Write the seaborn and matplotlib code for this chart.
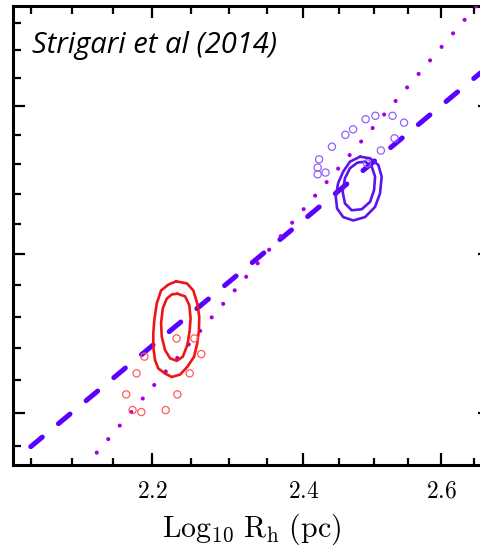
"""Strigari et al (2014): Sculptor populations, mass vs half-light radius."""

import numpy as np
import matplotlib

matplotlib.use("Agg")
import matplotlib.pyplot as plt
import seaborn as sns
from matplotlib.ticker import MultipleLocator, FixedLocator, NullFormatter

# reference slope lines (log10 R_h, log10 M)
DASH_X = [2.05, 2.66]
DASH_Y = [6.398, 7.618]
DOT_X = [2.1303, 2.6536]
DOT_Y = [6.380, 7.861]

# metal-rich population: open circles and contours
RED_PTS_X = [2.231, 2.254, 2.263, 2.190, 2.180, 2.248, 2.167, 2.232, 2.175, 2.186, 2.217]
RED_PTS_Y = [6.731, 6.731, 6.682, 6.674, 6.622, 6.622, 6.557, 6.557, 6.509, 6.503, 6.509]
RED_OUTER_X = [2.2304, 2.2442, 2.2527, 2.2578, 2.2604, 2.2600, 2.2578, 2.2536, 2.2449, 2.2355,
               2.2249, 2.2162, 2.2076, 2.2034, 2.2012, 2.2012, 2.2025, 2.2056, 2.2111, 2.2205]
RED_OUTER_Y = [6.9126, 6.9063, 6.8833, 6.8415, 6.7994, 6.7575, 6.7157, 6.6736, 6.6421, 6.6182,
               6.6107, 6.6214, 6.6371, 6.6632, 6.7050, 6.7472, 6.7890, 6.8415, 6.8833, 6.9022]
RED_INNER_X = [2.2321, 2.2420, 2.2475, 2.2491, 2.2478, 2.2449, 2.2390, 2.2313, 2.2227, 2.2162,
               2.2120, 2.2111, 2.2133, 2.2184, 2.2249]
RED_INNER_Y = [6.8729, 6.8644, 6.8361, 6.7943, 6.7522, 6.7104, 6.6736, 6.6610, 6.6685, 6.6946,
               6.7365, 6.7786, 6.8258, 6.8572, 6.8707]

# metal-poor population
BLUE_PTS_X = [2.440, 2.422, 2.420, 2.420, 2.431, 2.459, 2.470, 2.488, 2.502, 2.527, 2.544,
              2.530, 2.510, 2.490]
BLUE_PTS_Y = [7.360, 7.317, 7.289, 7.266, 7.272, 7.401, 7.420, 7.455, 7.467, 7.467, 7.443,
              7.389, 7.347, 7.303]
BLUE_OUTER_X = [2.4800, 2.4944, 2.5063, 2.5112, 2.5088, 2.5016, 2.4872, 2.4703, 2.4559, 2.4473,
                2.4454, 2.4487, 2.4559, 2.4655]
BLUE_OUTER_Y = [7.3259, 7.3205, 7.2978, 7.2582, 7.2020, 7.1566, 7.1228, 7.1116, 7.1228, 7.1512,
                7.1905, 7.2358, 7.2751, 7.3090]
BLUE_INNER_X = [2.4872, 2.4968, 2.5016, 2.5002, 2.4944, 2.4824, 2.4680, 2.4584, 2.4551, 2.4584,
                2.4655, 2.4761]
BLUE_INNER_Y = [7.3090, 7.2920, 7.2582, 7.2132, 7.1735, 7.1488, 7.1454, 7.1681, 7.2074, 7.2528,
                7.2866, 7.3056]

X_MAJOR = [2.2, 2.4, 2.6]
X_LABELS = [r"$2.2$", r"$2.4$", r"$2.6$"]
Y_MAJOR = [6.5, 7.0, 7.5]

RED = "#f01414"
RED_LIGHT = "#ff5a5a"
BLUE = "#5a14f0"
BLUE_LIGHT = "#9060ff"
DASH_COLOR = "#5a00ff"
DOT_COLOR = "#a400e4"

# the scanned figure is slightly warped; mild quadratic scales reproduce it
KX, X0 = 0.2158, 2.35
KY, Y0 = 0.06977, 7.1


def fwd_x(x):
    d = np.asarray(x, dtype=float) - X0
    return d - KX * d * d


def inv_x(u):
    u = np.asarray(u, dtype=float)
    return X0 + (1 - np.sqrt(np.clip(1 - 4 * KX * u, 1e-9, None))) / (2 * KX)


def fwd_y(y):
    e = np.asarray(y, dtype=float) - Y0
    return e - KY * e * e


def inv_y(u):
    u = np.asarray(u, dtype=float)
    return Y0 + (1 - np.sqrt(np.clip(1 - 4 * KY * u, 1e-9, None))) / (2 * KY)


def closed(xs, ys):
    return list(xs) + [xs[0]], list(ys) + [ys[0]]


def main():
    sns.set_style("white")
    plt.rcParams["mathtext.fontset"] = "cm"
    plt.rcParams["text.color"] = "black"
    plt.rcParams["axes.labelcolor"] = "black"
    plt.rcParams["xtick.color"] = "black"
    plt.rcParams["ytick.color"] = "black"

    fig = plt.figure(figsize=(4.81, 5.49), dpi=100)
    ax = fig.add_axes([13 / 481, (549 - 465) / 549, 477 / 481, 459 / 549])
    ax.set_xscale("function", functions=(fwd_x, inv_x))
    ax.set_yscale("function", functions=(fwd_y, inv_y))

    ax.plot(DASH_X, DASH_Y, color=DASH_COLOR, lw=3.6, linestyle=(0, (3, 4.2)),
            dash_capstyle="round", zorder=3)
    ax.plot(DOT_X, DOT_Y, color=DOT_COLOR, lw=3.0, linestyle=(0, (0.01, 4.25)),
            dash_capstyle="round", zorder=3)

    for xs, ys, col in [(RED_OUTER_X, RED_OUTER_Y, RED), (RED_INNER_X, RED_INNER_Y, RED),
                        (BLUE_OUTER_X, BLUE_OUTER_Y, BLUE), (BLUE_INNER_X, BLUE_INNER_Y, BLUE)]:
        cx, cy = closed(xs, ys)
        ax.plot(cx, cy, color=col, lw=1.9, solid_joinstyle="round", zorder=4)

    sns.scatterplot(x=RED_PTS_X, y=RED_PTS_Y, ax=ax, s=27, facecolor="none",
                    edgecolor=RED_LIGHT, linewidth=0.9, zorder=5)
    sns.scatterplot(x=BLUE_PTS_X, y=BLUE_PTS_Y, ax=ax, s=27, facecolor="none",
                    edgecolor=BLUE_LIGHT, linewidth=0.9, zorder=5)

    ax.set_xlim(2.0288, 2.675)
    ax.set_ylim(6.343, 7.861)

    ax.xaxis.set_major_locator(FixedLocator(X_MAJOR))
    ax.xaxis.set_minor_locator(MultipleLocator(0.05))
    ax.set_xticklabels(X_LABELS)
    ax.yaxis.set_major_locator(FixedLocator(Y_MAJOR))
    ax.yaxis.set_minor_locator(MultipleLocator(0.1))
    ax.yaxis.set_major_formatter(NullFormatter())
    ax.yaxis.set_minor_formatter(NullFormatter())
    ax.xaxis.set_minor_formatter(NullFormatter())

    ax.tick_params(which="both", direction="in", top=True, right=True, bottom=True,
                   left=True, width=1.6, color="black", labelcolor="black")
    ax.tick_params(which="major", length=8.6, labelsize=17, pad=10)
    ax.tick_params(which="minor", length=5.4)
    for sp in ax.spines.values():
        sp.set_linewidth(2.2)
        sp.set_color("black")

    ax.set_xlabel(r"$\mathrm{Log}_{10}\ \mathrm{R}_\mathrm{h}\ (\mathrm{pc})$", fontsize=21.5,
                  labelpad=6, color="black")

    ax.text((32 - 13) / 477, 1 - (53.3 - 6) / 459, "Strigari et al (2014)",
            transform=ax.transAxes, fontsize=21, style="italic", family="Open Sans",
            color="black", ha="left", va="baseline")

    fig.savefig("out.png", dpi=100)
    plt.close(fig)


if __name__ == "__main__":
    main()
